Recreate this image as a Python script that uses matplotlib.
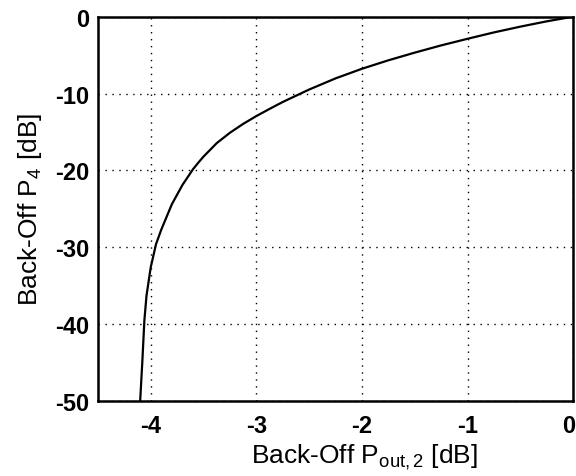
import matplotlib
matplotlib.use("Agg")
import matplotlib.pyplot as plt
from matplotlib.transforms import ScaledTranslation

plt.rcParams['font.family'] = ['Liberation Sans', 'DejaVu Sans']
plt.rcParams['mathtext.fontset'] = 'custom'
plt.rcParams['mathtext.rm'] = 'Liberation Sans'
plt.rcParams['mathtext.it'] = 'Liberation Sans'

# Back-off P_out,2 [dB] (x) vs back-off P4 [dB] (y)
pout2_db = [0.0, -0.25, -0.5, -0.75, -1.0, -1.25, -1.5, -1.75, -2.0, -2.25,
            -2.5, -2.75, -2.875, -3.0, -3.125, -3.25, -3.375, -3.5, -3.55,
            -3.6, -3.7, -3.8, -3.9, -3.95, -4.0, -4.04, -4.06, -4.08, -4.10]
p4_db = [0.0, -0.61, -1.30, -2.05, -2.88, -3.74, -4.68, -5.68, -6.78, -8.03,
         -9.48, -11.1, -12.0, -12.93, -13.95, -15.1, -16.45, -18.2, -19.0,
         -19.85, -21.9, -24.4, -27.7, -29.6, -32.6, -36.3, -39.5, -45.0, -50.0]

xticks = [-4, -3, -2, -1, 0]
yticks = [0, -10, -20, -30, -40, -50]

fig = plt.figure(figsize=(5.76, 4.77), dpi=100)
ax = fig.add_axes([0.170, 0.157, 0.825, 0.806])
ax.plot(pout2_db, p4_db, color='black', linewidth=1.6,
        solid_joinstyle='round', solid_capstyle='butt')
ax.set_xlim(-4.5, 0)
ax.set_ylim(-50, 0)
ax.set_xticks(xticks)
ax.set_yticks(yticks)
ax.set_xticklabels([str(t) for t in xticks], fontweight='bold', fontsize=17)
ax.set_yticklabels([str(t) for t in yticks], fontweight='bold', fontsize=17)
ax.grid(True, color='black', linestyle=(0, (1, 4)), linewidth=1.0)
ax.tick_params(direction='in', length=0)
ax.tick_params(axis='x', pad=9)
ax.tick_params(axis='y', pad=6)
for s in ax.spines.values():
    s.set_linewidth(1.8)
# nudge the last x tick label so it stays inside the figure
last = ax.get_xticklabels()[-1]
last.set_transform(last.get_transform() + ScaledTranslation(-4 / 100, 0, fig.dpi_scale_trans))
ax.set_xlabel(r'Back-Off P$_{\mathrm{out,2}}$ [dB]', fontsize=19)
ax.xaxis.set_label_coords(0.562, -0.105)
ax.set_ylabel(r'Back-Off P$_{\mathrm{4}}$ [dB]', fontsize=19, labelpad=8)
fig.savefig('out.png', dpi=100)
